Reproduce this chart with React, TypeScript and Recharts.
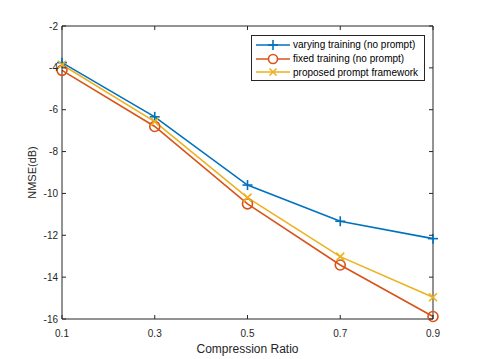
import React from 'react'
import { LineChart, Line, XAxis, YAxis } from 'recharts'

const ratios = [0.1, 0.3, 0.5, 0.7, 0.9]
const varying = [-3.75, -6.34, -9.6, -11.33, -12.16]
const fixedTrain = [-4.12, -6.8, -10.5, -13.42, -15.88]
const proposed = [-3.85, -6.57, -10.2, -13.02, -14.96]
const yTicks = [-16, -14, -12, -10, -8, -6, -4, -2]

const rows = ratios.map((r, i) => ({ r, varying: varying[i], fixed: fixedTrain[i], proposed: proposed[i] }))

const colors = { varying: '#0072BD', fixed: '#D95319', proposed: '#EDB120' }
const axisColor = '#262626'
const font = '"Liberation Sans", Arial, Helvetica, sans-serif'
const TICK = 4

const PlusDot = (p: any) => {
  const { cx, cy } = p
  if (cx == null || cy == null) return null
  return (
    <g stroke={colors.varying} strokeWidth={1.6}>
      <line x1={cx - 5} y1={cy} x2={cx + 5} y2={cy} />
      <line x1={cx} y1={cy - 5} x2={cx} y2={cy + 5} />
    </g>
  )
}
const CircleDot = (p: any) => {
  const { cx, cy } = p
  if (cx == null || cy == null) return null
  return <circle cx={cx} cy={cy} r={5} fill="none" stroke={colors.fixed} strokeWidth={1.6} />
}
const CrossDot = (p: any) => {
  const { cx, cy } = p
  if (cx == null || cy == null) return null
  return (
    <g stroke={colors.proposed} strokeWidth={1.6}>
      <line x1={cx - 4} y1={cy - 4} x2={cx + 4} y2={cy + 4} />
      <line x1={cx - 4} y1={cy + 4} x2={cx + 4} y2={cy - 4} />
    </g>
  )
}

const BottomTick = (p: any) => (
  <g>
    <line x1={p.x} y1={p.y} x2={p.x} y2={p.y - TICK} stroke={axisColor} />
    <text x={p.x} y={p.y + 17.5} textAnchor="middle" fontSize={10} fill={axisColor} fontFamily={font}>
      {p.payload.value}
    </text>
  </g>
)
const TopTick = (p: any) => <line x1={p.x} y1={p.y} x2={p.x} y2={p.y + TICK} stroke={axisColor} />
const LeftTick = (p: any) => (
  <g>
    <line x1={p.x} y1={p.y} x2={p.x + TICK} y2={p.y} stroke={axisColor} />
    <text x={p.x - 4} y={p.y + 3.5} textAnchor="end" fontSize={10} fill={axisColor} fontFamily={font}>
      {p.payload.value}
    </text>
  </g>
)
const RightTick = (p: any) => <line x1={p.x} y1={p.y} x2={p.x - TICK} y2={p.y} stroke={axisColor} />

const legendItems = [
  { name: 'varying training (no prompt)', color: colors.varying, kind: 'plus' },
  { name: 'fixed training (no prompt)', color: colors.fixed, kind: 'circle' },
  { name: 'proposed prompt framework', color: colors.proposed, kind: 'cross' },
]

const LegendBox = () => (
  <div
    style={{
      position: 'absolute',
      top: 35,
      left: 251,
      border: `1px solid ${axisColor}`,
      background: '#fff',
      padding: '2px 2px 2px 3px',
      fontFamily: font,
      fontSize: 10,
      color: '#000',
      boxSizing: 'border-box',
      width: 174,
      height: 46,
      whiteSpace: 'nowrap',
    }}
  >
    {legendItems.map((it) => (
      <div key={it.name} style={{ display: 'flex', alignItems: 'center', height: 13.8 }}>
        <svg width={36} height={12} style={{ marginRight: 2, flex: 'none' }}>
          <line x1={1} y1={6} x2={35} y2={6} stroke={it.color} strokeWidth={1.6} />
          {it.kind === 'plus' && (
            <g stroke={it.color} strokeWidth={1.6}>
              <line x1={13} y1={6} x2={23} y2={6} />
              <line x1={18} y1={1} x2={18} y2={11} />
            </g>
          )}
          {it.kind === 'circle' && <circle cx={18} cy={6} r={4.5} fill="#fff" stroke={it.color} strokeWidth={1.6} />}
          {it.kind === 'cross' && (
            <g stroke={it.color} strokeWidth={1.6}>
              <line x1={14.5} y1={2.5} x2={21.5} y2={9.5} />
              <line x1={14.5} y1={9.5} x2={21.5} y2={2.5} />
            </g>
          )}
        </svg>
        <span>{it.name}</span>
      </div>
    ))}
  </div>
)

export default function App() {
  return (
    <div style={{ position: 'absolute', left: 0, top: 0, width: 478, height: 359, background: '#fff' }}>
      <LineChart width={478} height={359} data={rows} margin={{ top: 25, right: 44, bottom: 0, left: 0 }}>
        <XAxis
          dataKey="r"
          type="number"
          domain={[0.1, 0.9]}
          ticks={ratios}
          height={40}
          tickSize={0}
          tickMargin={0}
          tick={<BottomTick />}
          axisLine={{ stroke: axisColor }}
          tickLine={false}
          interval={0}
          label={{ value: 'Compression Ratio', position: 'insideBottom', offset: 6, fontSize: 12, fill: axisColor, fontFamily: font }}
        />
        <XAxis
          xAxisId="top"
          orientation="top"
          dataKey="r"
          type="number"
          domain={[0.1, 0.9]}
          ticks={ratios}
          height={1}
          tickSize={0}
          tickMargin={0}
          tick={<TopTick />}
          axisLine={{ stroke: axisColor }}
          tickLine={false}
          interval={0}
        />
        <YAxis
          type="number"
          domain={[-16, -2]}
          ticks={yTicks}
          width={62}
          tickSize={0}
          tickMargin={0}
          tick={<LeftTick />}
          axisLine={{ stroke: axisColor }}
          tickLine={false}
          interval={0}
          label={{ value: 'NMSE(dB)', angle: -90, position: 'insideLeft', offset: 32, fontSize: 11, fill: axisColor, fontFamily: font, style: { textAnchor: 'middle' } }}
        />
        <YAxis
          yAxisId="right"
          orientation="right"
          type="number"
          domain={[-16, -2]}
          ticks={yTicks}
          width={1}
          tickSize={0}
          tickMargin={0}
          tick={<RightTick />}
          axisLine={{ stroke: axisColor }}
          tickLine={false}
          interval={0}
        />
        <Line dataKey="varying" stroke={colors.varying} strokeWidth={1.6} dot={<PlusDot />} activeDot={false} isAnimationActive={false} />
        <Line xAxisId="top" dataKey="fixed" stroke={colors.fixed} strokeWidth={1.6} dot={<CircleDot />} activeDot={false} isAnimationActive={false} />
        <Line yAxisId="right" dataKey="proposed" stroke={colors.proposed} strokeWidth={1.6} dot={<CrossDot />} activeDot={false} isAnimationActive={false} />
      </LineChart>
      <LegendBox />
    </div>
  )
}
